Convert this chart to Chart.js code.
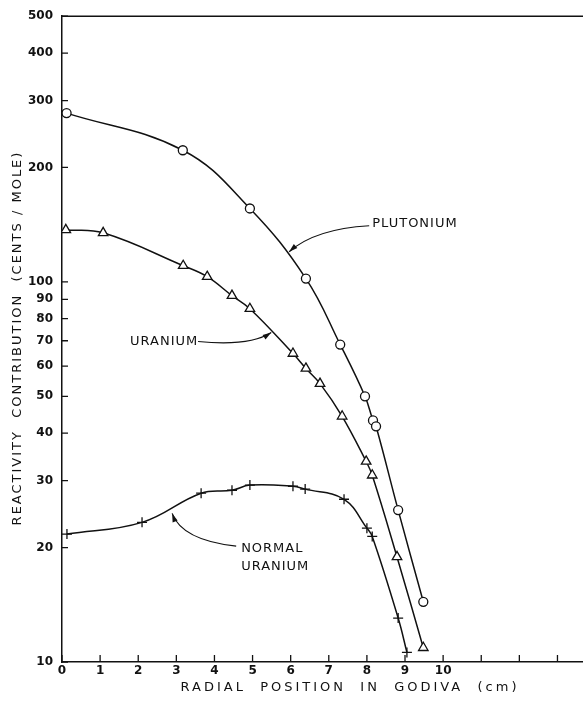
<!DOCTYPE html>
<html>
<head>
<meta charset="utf-8">
<script src="https://cdn.jsdelivr.net/npm/chart.js@4.4.1/dist/chart.umd.min.js"></script>
<style>
  html, body { margin: 0; padding: 0; background: #fff; }
  #wrap { width: 583px; height: 711px; position: relative; }
</style>
</head>
<body>
<div id="wrap"><canvas id="godiva"></canvas></div>
<script>
// values (x in cm, y in cents/mole)
const puX = [0.12, 3.17, 4.93, 6.40, 7.30, 7.95, 8.16, 8.24, 8.82, 9.48];
const puY = [278, 222, 156, 102, 68.4, 50.0, 43.2, 41.7, 25.1, 14.4];

const uX = [0.1, 1.08, 3.18, 3.81, 4.46, 4.93, 6.06, 6.40, 6.77, 7.35, 7.98, 8.14, 8.79, 9.48];
const uY = [137, 134.6, 110.3, 103.2, 92.0, 85.0, 64.8, 59.2, 54.0, 44.3, 33.7, 31.0, 18.9, 10.9];

const nuX = [0.13, 2.1, 3.65, 4.46, 4.93, 6.06, 6.38, 7.40, 8.0, 8.14, 8.82, 9.05];
const nuY = [21.7, 23.3, 27.8, 28.3, 29.2, 29.0, 28.5, 26.8, 22.5, 21.4, 13.05, 10.6];

const yTicks = [10, 20, 30, 40, 50, 60, 70, 80, 90, 100, 200, 300, 400, 500];
const xTicks = [0, 1, 2, 3, 4, 5, 6, 7, 8, 9, 10, 11, 12, 13];
const xLabelMax = 10;

const xTitle = 'RADIAL  POSITION  IN  GODIVA  (cm)';
const yTitle = 'REACTIVITY  CONTRIBUTION  (CENTS / MOLE)';

// curve labels, placed in data coordinates
const notes = [
  { lines: ['PLUTONIUM'], at: [8.14, 142.2], arrow: [[8.06, 140.5], [6.64, 137.9], [5.96, 120.0]] },
  { lines: ['URANIUM'], at: [1.785, 69.7], arrow: [[3.57, 69.7], [4.93, 67.6], [5.49, 73.6]] },
  { lines: ['NORMAL', 'URANIUM'], at: [4.70, 19.93], arrow: [[4.57, 20.17], [3.15, 20.9], [2.89, 24.6]] }
];

const INK = '#111';

function toPoints(xs, ys) {
  return xs.map((x, i) => ({ x: x, y: ys[i] }));
}

function series(label, xs, ys, style, r) {
  return {
    label: label,
    data: toPoints(xs, ys),
    borderColor: INK,
    borderWidth: 1.5,
    pointStyle: style,
    pointRadius: r,
    pointBorderWidth: 1.3,
    pointBorderColor: INK,
    pointBackgroundColor: '#fff',
    tension: 0.4,
    fill: false
  };
}

const paperPlugin = {
  id: 'paper',
  afterDraw(chart) {
    const ctx = chart.ctx;
    const area = chart.chartArea;
    const xs = chart.scales.x;
    const ys = chart.scales.y;
    ctx.save();
    ctx.strokeStyle = INK;
    ctx.fillStyle = INK;

    // top frame line
    ctx.lineWidth = 1.5;
    ctx.beginPath();
    ctx.moveTo(area.left, area.top);
    ctx.lineTo(area.right, area.top);
    ctx.stroke();

    // inward tick marks
    ctx.lineWidth = 1.3;
    ctx.beginPath();
    xTicks.forEach(v => {
      const p = xs.getPixelForValue(v);
      ctx.moveTo(p, area.bottom);
      ctx.lineTo(p, area.bottom - 7);
    });
    yTicks.forEach(v => {
      const p = ys.getPixelForValue(v);
      ctx.moveTo(area.left, p);
      ctx.lineTo(area.left + 6, p);
    });
    ctx.stroke();

    // axis titles
    ctx.font = '13px "DejaVu Sans"';
    ctx.textAlign = 'center';
    ctx.textBaseline = 'middle';
    ctx.letterSpacing = '3px';
    ctx.fillText(xTitle, 350, 688);
    ctx.letterSpacing = '2px';
    ctx.save();
    ctx.translate(18, 338);
    ctx.rotate(-Math.PI / 2);
    ctx.fillText(yTitle, 0, 0);
    ctx.restore();

    // curve labels with arrows
    ctx.letterSpacing = '1px';
    ctx.textAlign = 'left';
    notes.forEach(n => {
      const tx = xs.getPixelForValue(n.at[0]);
      const ty = ys.getPixelForValue(n.at[1]);
      n.lines.forEach((line, i) => ctx.fillText(line, tx, ty + i * 18));

      const pts = n.arrow.map(a => [xs.getPixelForValue(a[0]), ys.getPixelForValue(a[1])]);
      ctx.lineWidth = 1.2;
      ctx.beginPath();
      ctx.moveTo(pts[0][0], pts[0][1]);
      ctx.quadraticCurveTo(pts[1][0], pts[1][1], pts[2][0], pts[2][1]);
      ctx.stroke();

      const ang = Math.atan2(pts[2][1] - pts[1][1], pts[2][0] - pts[1][0]);
      ctx.beginPath();
      ctx.moveTo(pts[2][0], pts[2][1]);
      ctx.lineTo(pts[2][0] - 9 * Math.cos(ang - 0.3), pts[2][1] - 9 * Math.sin(ang - 0.3));
      ctx.lineTo(pts[2][0] - 9 * Math.cos(ang + 0.3), pts[2][1] - 9 * Math.sin(ang + 0.3));
      ctx.closePath();
      ctx.fill();
    });
    ctx.restore();
  }
};

function initChart() {
  const canvas = document.getElementById('godiva');
  const tickFont = { family: '"DejaVu Sans"', size: 12, weight: 'bold' };

  new Chart(canvas, {
    type: 'line',
    data: {
      datasets: [
        series('Plutonium', puX, puY, 'circle', 4.5),
        series('Uranium', uX, uY, 'triangle', 5.5),
        series('Normal uranium', nuX, nuY, 'cross', 5)
      ]
    },
    options: {
      responsive: true,
      maintainAspectRatio: false,
      animation: false,
      layout: { autoPadding: false, padding: { top: 15, right: 0, left: 0, bottom: 0 } },
      plugins: {
        legend: { display: false },
        tooltip: { enabled: false }
      },
      scales: {
        x: {
          type: 'linear',
          min: 0,
          max: 13.67,
          grid: { display: false, drawTicks: false },
          border: { display: true, color: INK, width: 1.5 },
          afterBuildTicks: s => { s.ticks = xTicks.map(v => ({ value: v })); },
          afterFit: s => { s.height = 49; },
          ticks: {
            color: INK,
            font: tickFont,
            padding: 2,
            maxRotation: 0,
            autoSkip: false,
            callback: v => (v <= xLabelMax ? String(v) : '')
          }
        },
        y: {
          type: 'logarithmic',
          min: 10,
          max: 500,
          grid: { display: false, drawTicks: false },
          border: { display: true, color: INK, width: 1.5 },
          afterBuildTicks: s => { s.ticks = yTicks.map(v => ({ value: v })); },
          afterFit: s => { s.width = 62; },
          ticks: {
            color: INK,
            font: tickFont,
            padding: 9,
            autoSkip: false,
            callback: v => String(v)
          }
        }
      }
    },
    plugins: [paperPlugin]
  });
}

document.addEventListener('DOMContentLoaded', initChart);
</script>
</body>
</html>
